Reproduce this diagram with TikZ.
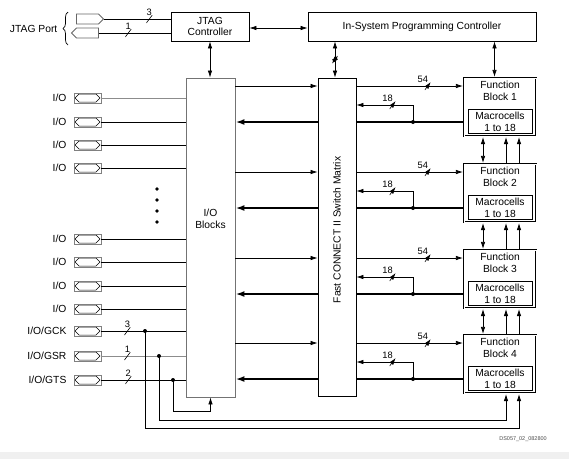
\documentclass[tikz,border=0pt]{standalone}
\usepackage{fontspec}
\setmainfont{Liberation Sans}
\usepackage{tikz}
\usetikzlibrary{arrows.meta, positioning, shapes.symbols, decorations.pathreplacing}
\newcommand{\dgfont}{\fontsize{10.3}{11.5}\selectfont}
\tikzset{
  blockbox/.style={rectangle, draw, line width=0.8pt, align=center, inner sep=1pt,
                   outer sep=0.4pt, font=\dgfont},
  iobox/.style={rectangle, draw=black!55, line width=0.9pt, minimum width=49pt,
                minimum height=319pt, outer sep=0.45pt},
  swbox/.style={rectangle, draw, line width=0.8pt, minimum width=38pt,
                minimum height=318pt, outer sep=0.4pt},
  fbbox/.style={rectangle, draw, double, double distance=1pt, line width=0.6pt,
                minimum width=72pt, minimum height=58pt, outer sep=1.1pt},
  mcbox/.style={rectangle, draw, line width=0.7pt, minimum width=64pt, minimum height=24pt,
                align=center, inner sep=0pt, outer sep=0pt, font=\dgfont},
  txt/.style={align=center, inner sep=1pt, font=\dgfont},
  iolbl/.style={txt, label distance=6pt},
  iopin/.style={rectangle, draw=black!50, line width=0.8pt, minimum width=27pt,
                minimum height=10pt, inner sep=0pt,
                path picture={\draw[black, line width=0.5pt]
                  ([xshift=1pt]path picture bounding box.west) -- ++(4pt,4pt) -- ++(17pt,0pt)
                  -- ++(4pt,-4pt) -- ++(-4pt,-4pt) -- ++(-17pt,0pt) -- cycle;}},
  jpin/.style={signal, draw=black!60, line width=0.8pt, minimum width=27pt,
               minimum height=10pt, inner sep=0pt},
  busmark/.style={inner sep=0pt, minimum width=6pt, minimum height=8pt,
                  path picture={\draw[line width=0.6pt] (path picture bounding box.south west)
                    -- (path picture bounding box.north east);}},
  buslbl/.style={font=\fontsize{9.3}{10}\selectfont, inner sep=0.5pt, label distance=-1.5pt},
  tap/.style={circle, fill, inner sep=0pt, minimum size=4pt},
  vdot/.style={circle, fill, inner sep=0pt, minimum size=3.6pt},
  wire/.style={line width=0.7pt},
  arrow/.style={-{Latex[length=7pt, width=4.5pt]}, line width=0.7pt},
  dblarrow/.style={{Latex[length=7pt, width=4.5pt]}-{Latex[length=7pt, width=4.5pt]}, line width=0.7pt},
  retbus/.style={line width=2pt, -{Latex[length=9pt, width=6pt]}}
}
\begin{document}
\begin{tikzpicture}[x=1pt, y=-1pt]
  \useasboundingbox (0,0) rectangle (569,459);
  \fill[black!6] (0,452) rectangle (569,459);

  % JTAG port and controllers
  \node[blockbox, minimum width=78pt, minimum height=29pt] (jtag) at (210,26.5) {JTAG\\Controller};
  \node[blockbox, minimum width=228pt, minimum height=29pt] (isp) at (422,26.5) {In-System Programming Controller};
  \node[jpin, signal to=east] (tdi) at (87.5,19) {};
  \node[jpin, signal to=west] (tdo) at (87.5,33) {};
  \draw[wire, decorate, decoration={brace, amplitude=5pt}] (68,45) -- (68,12);
  \node[txt, anchor=east] (jport) at (58.5,28.5) {JTAG Port};
  \draw[wire] (tdi.east) -- node[busmark, pos=.68, label={[buslbl]above:3}] {} (jtag.west |- tdi.east);
  \draw[wire] (tdo.east) -- node[busmark, pos=.41, label={[buslbl]above:1}] {} (jtag.west |- tdo.east);
  \draw[dblarrow] ([yshift=-1.5pt]jtag.east) -- ([yshift=-1.5pt]isp.west);

  % I/O blocks and switch matrix
  \node[iobox] (iob) at (210.5,237.5) {};
  \node[txt] (iobtxt) at (210.5,219) {I/O\\Blocks};
  \node[swbox] (sw) at (337,237) {};
  \node[txt, rotate=90] (swtxt) at (337,230) {Fast CONNECT II Switch Matrix};
  \draw[dblarrow] (jtag.south) -- (jtag.south |- iob.north);
  \coordinate (ispsw) at ([xshift=-2pt]sw.north);
  \draw[dblarrow] (ispsw |- isp.south) -- node[busmark, pos=.5] {} (ispsw);

  % Function blocks
  \node[fbbox] (fb1) at (500,107) {};
  \node[fbbox] (fb2) at (500,193) {};
  \node[fbbox] (fb3) at (500,279) {};
  \node[fbbox] (fb4) at (500,364) {};
  \node[txt, below=3pt of fb1.north] (fbt1) {Function\\Block 1};
  \node[txt, below=3pt of fb2.north] (fbt2) {Function\\Block 2};
  \node[txt, below=3pt of fb3.north] (fbt3) {Function\\Block 3};
  \node[txt, below=3pt of fb4.north] (fbt4) {Function\\Block 4};
  \node[mcbox, above=3.5pt of fb1.south] (mc1) {Macrocells\\1 to 18};
  \node[mcbox, above=3.5pt of fb2.south] (mc2) {Macrocells\\1 to 18};
  \node[mcbox, above=3.5pt of fb3.south] (mc3) {Macrocells\\1 to 18};
  \node[mcbox, above=3.5pt of fb4.south] (mc4) {Macrocells\\1 to 18};
  \coordinate (ispfb) at ([xshift=-5.5pt]fb1.north);
  \draw[dblarrow] (ispfb |- isp.south) -- (ispfb);

  % links between function blocks
  \draw[dblarrow] ([xshift=-17pt]fb1.south) -- ([xshift=-17pt]fb2.north);
  \draw[arrow] ([xshift=6pt]fb2.north) -- ([xshift=6pt]fb1.south);
  \draw[arrow] ([xshift=19pt]fb2.north) -- ([xshift=19pt]fb1.south);
  \draw[dblarrow] ([xshift=-17pt]fb2.south) -- ([xshift=-17pt]fb3.north);
  \draw[arrow] ([xshift=6pt]fb3.north) -- ([xshift=6pt]fb2.south);
  \draw[arrow] ([xshift=19pt]fb3.north) -- ([xshift=19pt]fb2.south);
  \draw[dblarrow] ([xshift=-17pt]fb3.south) -- ([xshift=-17pt]fb4.north);
  \draw[arrow] ([xshift=6pt]fb4.north) -- ([xshift=6pt]fb3.south);
  \draw[arrow] ([xshift=19pt]fb4.north) -- ([xshift=19pt]fb3.south);

  % block 1 buses
  \coordinate (in1) at (0,86);
  \coordinate (fbk1) at (0,105);
  \node[tap] (ret1) at (413,122) {};
  \draw[arrow] (iob.east |- in1) -- (sw.west |- in1);
  \draw[arrow] (sw.east |- in1) -- node[busmark, pos=.67, label={[buslbl, xshift=-5pt]above:54}] {} (fb1.west |- in1);
  \draw[line width=2pt] (fb1.west |- ret1) -- (sw.east |- ret1);
  \draw[retbus] (sw.west |- ret1) -- (iob.east |- ret1);
  \draw[arrow] (ret1.center) |- node[busmark, pos=.68, label={[buslbl, xshift=-5pt]above:18}] {} (sw.east |- fbk1);

  % block 2 buses
  \coordinate (in2) at (0,172);
  \coordinate (fbk2) at (0,191);
  \node[tap] (ret2) at (413,208) {};
  \draw[arrow] (iob.east |- in2) -- (sw.west |- in2);
  \draw[arrow] (sw.east |- in2) -- node[busmark, pos=.67, label={[buslbl, xshift=-5pt]above:54}] {} (fb2.west |- in2);
  \draw[line width=2pt] (fb2.west |- ret2) -- (sw.east |- ret2);
  \draw[retbus] (sw.west |- ret2) -- (iob.east |- ret2);
  \draw[arrow] (ret2.center) |- node[busmark, pos=.68, label={[buslbl, xshift=-5pt]above:18}] {} (sw.east |- fbk2);

  % block 3 buses
  \coordinate (in3) at (0,258);
  \coordinate (fbk3) at (0,277);
  \node[tap] (ret3) at (413,294) {};
  \draw[arrow] (iob.east |- in3) -- (sw.west |- in3);
  \draw[arrow] (sw.east |- in3) -- node[busmark, pos=.67, label={[buslbl, xshift=-5pt]above:54}] {} (fb3.west |- in3);
  \draw[line width=2pt] (fb3.west |- ret3) -- (sw.east |- ret3);
  \draw[retbus] (sw.west |- ret3) -- (iob.east |- ret3);
  \draw[arrow] (ret3.center) |- node[busmark, pos=.68, label={[buslbl, xshift=-5pt]above:18}] {} (sw.east |- fbk3);

  % block 4 buses
  \coordinate (in4) at (0,343);
  \coordinate (fbk4) at (0,362);
  \node[tap] (ret4) at (413,379) {};
  \draw[arrow] (iob.east |- in4) -- (sw.west |- in4);
  \draw[arrow] (sw.east |- in4) -- node[busmark, pos=.67, label={[buslbl, xshift=-5pt]above:54}] {} (fb4.west |- in4);
  \draw[line width=2pt] (fb4.west |- ret4) -- (sw.east |- ret4);
  \draw[retbus] (sw.west |- ret4) -- (iob.east |- ret4);
  \draw[arrow] (ret4.center) |- node[busmark, pos=.68, label={[buslbl, xshift=-5pt]above:18}] {} (sw.east |- fbk4);

  % I/O pins
  \node[iopin, label={[iolbl]left:I/O}] (io1) at (87.5,98) {};
  \node[iopin, label={[iolbl]left:I/O}] (io2) at (87.5,122) {};
  \node[iopin, label={[iolbl]left:I/O}] (io3) at (87.5,145) {};
  \node[iopin, label={[iolbl]left:I/O}] (io4) at (87.5,168) {};
  \node[iopin, label={[iolbl]left:I/O}] (io5) at (87.5,239) {};
  \node[iopin, label={[iolbl]left:I/O}] (io6) at (87.5,262) {};
  \node[iopin, label={[iolbl]left:I/O}] (io7) at (87.5,286) {};
  \node[iopin, label={[iolbl]left:I/O}] (io8) at (87.5,309) {};
  \node[iopin, label={[iolbl]left:I/O/GCK}] (pgck) at (87.5,331) {};
  \node[iopin, label={[iolbl]left:I/O/GSR}] (pgsr) at (87.5,356) {};
  \node[iopin, label={[iolbl]left:I/O/GTS}] (pgts) at (87.5,380) {};
  \node[vdot] (dot1) at (157,189) {};
  \node[vdot] (dot2) at (157,200) {};
  \node[vdot] (dot3) at (157,211) {};
  \node[vdot] (dot4) at (157,222) {};

  \draw[wire, black!45] (io1) -- (iob.west |- io1);
  \draw[wire] (io2) -- (iob.west |- io2);
  \draw[wire] (io3) -- (iob.west |- io3);
  \draw[wire] (io4) -- (iob.west |- io4);
  \draw[wire] (io5) -- (iob.west |- io5);
  \draw[wire] (io6) -- (iob.west |- io6);
  \draw[wire] (io7) -- (iob.west |- io7);
  \draw[wire] (io8) -- (iob.west |- io8);
  \draw[wire] (pgck) -- node[busmark, pos=.31, label={[buslbl]above:3}] {} (iob.west |- pgck);
  \draw[wire, black!45] (pgsr) -- node[busmark, black, pos=.31, label={[buslbl, black]above:1}] {} (iob.west |- pgsr);
  \draw[wire] (pgts) -- node[busmark, pos=.32, label={[buslbl]above:2}] {} (iob.west |- pgts);

  % global clock, set/reset and tristate lines
  \node[tap] (gck) at (145,331) {};
  \node[tap] (gsr) at (159,356) {};
  \node[tap] (gts) at (173,380) {};
  \coordinate (lowA) at (0,428);
  \coordinate (lowB) at (0,420);
  \coordinate (lowC) at (0,411);
  \draw[arrow] (gck.center) -- (gck.center |- lowA) -| ([xshift=19pt]fb4.south);
  \draw[arrow] (gsr.center) -- (gsr.center |- lowB) -| ([xshift=6pt]fb4.south);
  \draw[arrow] (gts.center) -- (gts.center |- lowC) -| (iob.south);

  \node[font=\fontsize{5.5}{6}\selectfont, text=black!70] (dsid) at (523,439) {DS057\_02\_082800};
\end{tikzpicture}
\end{document}
